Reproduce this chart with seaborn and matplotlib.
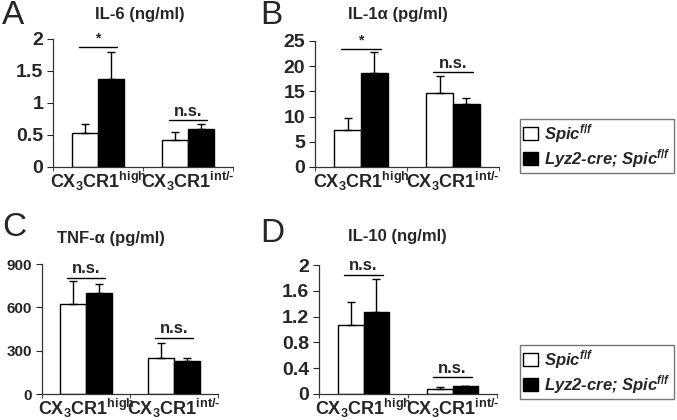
#!/usr/bin/env python3
"""Cytokine levels in CX3CR1 high / int- macrophages, Spic f/f vs Lyz2-cre; Spic f/f."""

import numpy as np
import pandas as pd
import matplotlib
matplotlib.use("Agg")
import matplotlib.pyplot as plt
import matplotlib.patches as mpatches
import seaborn as sns

# ---------------------------------------------------------------------------
# Data
# ---------------------------------------------------------------------------
CATEGORIES = [r"CX$_3$CR1$^{\mathrm{high}}$", r"CX$_3$CR1$^{\mathrm{int/}\text{-}}$"]
GENOTYPES = ["Spic f/f", "Lyz2-cre; Spic f/f"]

# mean values: [high, int/-] per genotype
IL6_WT = [0.53, 0.42]
IL6_KO = [1.38, 0.59]
IL6_WT_ERR = [0.67, 0.55]      # top of error bar
IL6_KO_ERR = [1.80, 0.67]

IL1A_WT = [7.3, 14.7]
IL1A_KO = [18.7, 12.5]
IL1A_WT_ERR = [9.7, 18.1]
IL1A_KO_ERR = [22.9, 13.7]

TNF_WT = [621, 251]
TNF_KO = [699, 231]
TNF_WT_ERR = [782, 355]
TNF_KO_ERR = [762, 249]

IL10_WT = [1.07, 0.08]
IL10_KO = [1.27, 0.12]
IL10_WT_ERR = [1.42, 0.11]
IL10_KO_ERR = [1.78, 0.13]

SIG_LABELS = {
    "A": ["*", "n.s."],
    "B": ["*", "n.s."],
    "C": ["n.s.", "n.s."],
    "D": ["n.s.", "n.s."],
}
SIG_HEIGHTS = {
    "A": [1.88, 0.73],
    "B": [23.5, 18.8],
    "C": [803, 388],
    "D": [1.85, 0.26],
}

TITLES = ["IL-6 (ng/ml)", "IL-1\u03b1 (pg/ml)", "TNF-\u03b1 (pg/ml)", "IL-10 (ng/ml)"]

# ---------------------------------------------------------------------------
# Style
# ---------------------------------------------------------------------------
sns.set_style("ticks")
plt.rcParams.update({
    "font.family": ["Liberation Sans", "DejaVu Sans"],
    "mathtext.fontset": "custom",
    "mathtext.rm": "Liberation Sans:bold",
    "mathtext.it": "Liberation Sans:italic:bold",
    "mathtext.bf": "Liberation Sans:bold",
    "axes.linewidth": 0.9,
    "axes.edgecolor": "#333333",
})

PALETTE = {GENOTYPES[0]: "white", GENOTYPES[1]: "black"}

W, H = 677, 420
fig = plt.figure(figsize=(W / 100, H / 100), dpi=100)


def px_axes(x0, x1, ytop, ybot):
    return fig.add_axes([x0 / W, 1 - ybot / H, (x1 - x0) / W, (ybot - ytop) / H])


def panel(ax, wt, ko, wt_err, ko_err, ymax, yticks, ytick_labels, sig_key,
          tick_fs=14):
    df = pd.DataFrame({
        "cat": CATEGORIES * 2,
        "geno": [GENOTYPES[0]] * 2 + [GENOTYPES[1]] * 2,
        "val": list(wt) + list(ko),
        "top": list(wt_err) + list(ko_err),
    })
    sns.barplot(data=df, x="cat", y="val", hue="geno", palette=PALETTE,
                hue_order=GENOTYPES, order=CATEGORIES, width=0.58,
                edgecolor="black", linewidth=1.0, errorbar=None,
                legend=False, ax=ax)

    # upper-only error bars, centred on each bar
    bars = [p for p in ax.patches if isinstance(p, mpatches.Rectangle)]
    for p, top in zip(bars, df["top"]):
        xc = p.get_x() + p.get_width() / 2
        h = p.get_height()
        ax.errorbar(xc, h, yerr=[[0], [top - h]], fmt="none",
                    ecolor="black", elinewidth=1.0, capsize=3, capthick=1.0,
                    zorder=1)

    # significance annotations
    for i, (lab, y) in enumerate(zip(SIG_LABELS[sig_key], SIG_HEIGHTS[sig_key])):
        ax.plot([i - 0.215, i + 0.215], [y, y], color="black", lw=1.0,
                clip_on=False)
        fs = 12 if lab != "*" else 10
        ax.text(i, y + ymax * 0.012, lab, ha="center", va="bottom",
                fontsize=fs, fontweight="bold", clip_on=False)

    ax.set_xlim(-0.5, 1.5)
    ax.set_ylim(0, ymax)
    ax.set_yticks(yticks)
    ax.set_yticklabels(ytick_labels, fontsize=tick_fs, fontweight="bold")
    ax.set_xticks([0, 1])
    ax.set_xticklabels(CATEGORIES, fontsize=13, fontweight="bold")
    ax.set_xticks([-0.5, 0.5, 1.5], minor=True)
    ax.tick_params(axis="x", which="major", length=0, pad=2)
    ax.tick_params(axis="x", which="minor", length=3, direction="out")
    ax.tick_params(axis="y", length=4, direction="out", pad=3)
    ax.set_xlabel("")
    ax.set_ylabel("")
    sns.despine(ax=ax)
    return ax


axA = px_axes(53, 233, 39, 167)
panel(axA, IL6_WT, IL6_KO, IL6_WT_ERR, IL6_KO_ERR, 2,
      [0, 0.5, 1, 1.5, 2], ["0", "0.5", "1", "1.5", "2"], "A")

axB = px_axes(315, 499, 41, 167)
panel(axB, IL1A_WT, IL1A_KO, IL1A_WT_ERR, IL1A_KO_ERR, 25,
      [0, 5, 10, 15, 20, 25], ["0", "5", "10", "15", "20", "25"], "B")

axC = px_axes(42, 218, 264, 394)
panel(axC, TNF_WT, TNF_KO, TNF_WT_ERR, TNF_KO_ERR, 900,
      [0, 300, 600, 900], ["0", "300", "600", "900"], "C", tick_fs=11)

axD = px_axes(319, 497, 265, 394)
panel(axD, IL10_WT, IL10_KO, IL10_WT_ERR, IL10_KO_ERR, 2,
      [0, 0.4, 0.8, 1.2, 1.6, 2], ["0", "0.4", "0.8", "1.2", "1.6", "2"], "D")

# panel titles, placed in figure pixels
for t, (cx, cy) in zip(TITLES, [(140, 14), (398, 14), (111, 238), (397, 236)]):
    fig.text(cx / W, 1 - cy / H, t, ha="center", va="center",
             fontsize=12, fontweight="bold")

# panel letters
for l, (lx, ly) in zip("ABCD", [(2, 15), (260, 15), (2, 227), (260, 234)]):
    fig.text(lx / W, 1 - ly / H, l, ha="left", va="center", fontsize=24)

# legends
handles = [mpatches.Patch(facecolor="white", edgecolor="black", lw=1),
           mpatches.Patch(facecolor="black", edgecolor="black", lw=1)]
labels = [r"Spic$^{f/f}$", r"Lyz2-cre; Spic$^{f/f}$"]
for ytop in (119, 345):
    leg = fig.legend(handles, labels, loc="upper left",
                     bbox_to_anchor=(520 / W, 1 - ytop / H),
                     fontsize=12, handlelength=0.9, handleheight=0.8,
                     handletextpad=0.35, borderpad=0.2, labelspacing=0.1,
                     fancybox=False, frameon=True, borderaxespad=0)
    leg.get_frame().set_edgecolor("#555555")
    leg.get_frame().set_linewidth(1.0)
    for txt in leg.get_texts():
        txt.set_fontstyle("italic")
        txt.set_fontweight("bold")

fig.savefig("out.png", dpi=100)
